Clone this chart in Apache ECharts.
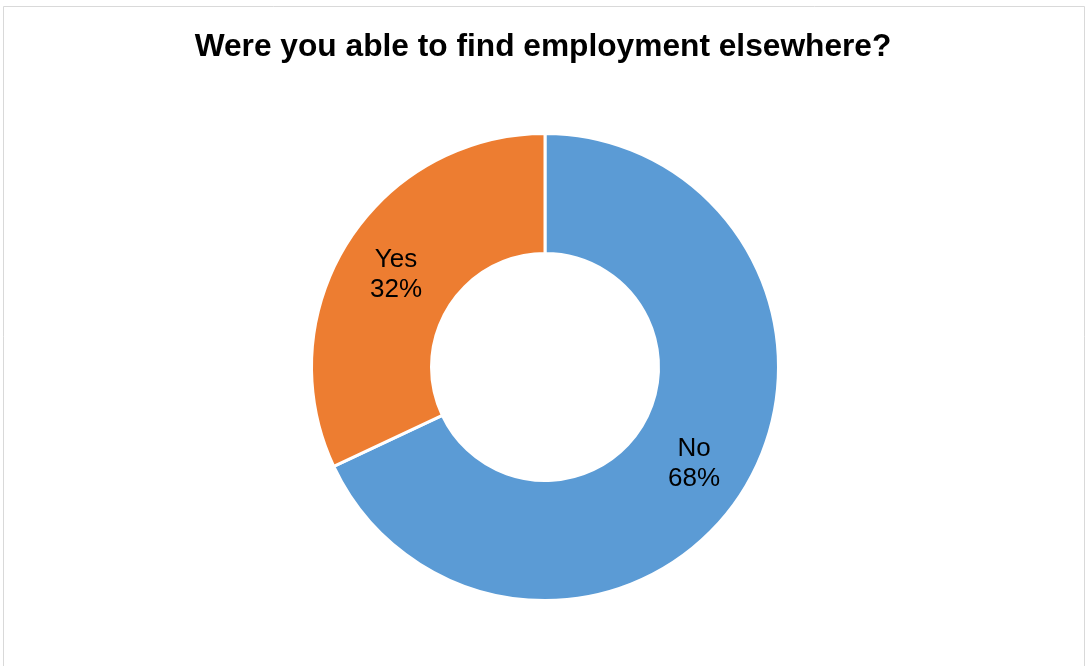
<!DOCTYPE html>
<html>
<head>
<meta charset="utf-8">
<script src="https://cdn.jsdelivr.net/npm/echarts@6/dist/echarts.min.js"></script>
<style>
  html, body { margin: 0; padding: 0; background: #ffffff; }
  #chart { width: 1086px; height: 666px; }
</style>
</head>
<body>
<div id="chart"></div>
<script>
// Survey answers
const categories = ['No', 'Yes'];
const shares = [68, 32];
const sliceColors = ['#5B9BD5', '#ED7D31'];
const titleText = 'Were you able to find employment elsewhere?';

const chart = echarts.init(document.getElementById('chart'), null, { renderer: 'canvas' });

const pieData = categories.map((name, i) => ({
  name: name,
  value: shares[i],
  itemStyle: { color: sliceColors[i] }
}));

chart.setOption({
  backgroundColor: '#ffffff',
  animation: false,
  title: {
    text: titleText,
    left: 'center',
    top: 31,
    padding: 0,
    textStyle: {
      fontFamily: 'Liberation Sans, Arial, sans-serif',
      fontSize: 31.7,
      lineHeight: 32,
      fontWeight: 'bold',
      color: '#000000'
    }
  },
  graphic: [{
    type: 'rect',
    silent: true,
    shape: { x: 3.5, y: 6.5, width: 1081, height: 700 },
    style: { fill: 'none', stroke: '#d9d9d9', lineWidth: 1 }
  }],
  series: [{
    type: 'pie',
    center: [545, 367],
    radius: [113.5, 233.5],
    startAngle: 90,
    clockwise: true,
    avoidLabelOverlap: false,
    itemStyle: { borderColor: '#ffffff', borderWidth: 3 },
    label: {
      show: true,
      position: 'inside',
      offset: [0, 2],
      formatter: p => p.name + '\n' + p.value + '%',
      fontFamily: 'Liberation Sans, Arial, sans-serif',
      fontSize: 26,
      lineHeight: 30,
      color: '#000000'
    },
    labelLine: { show: false },
    emphasis: { disabled: true },
    data: pieData
  }]
});
</script>
</body>
</html>
